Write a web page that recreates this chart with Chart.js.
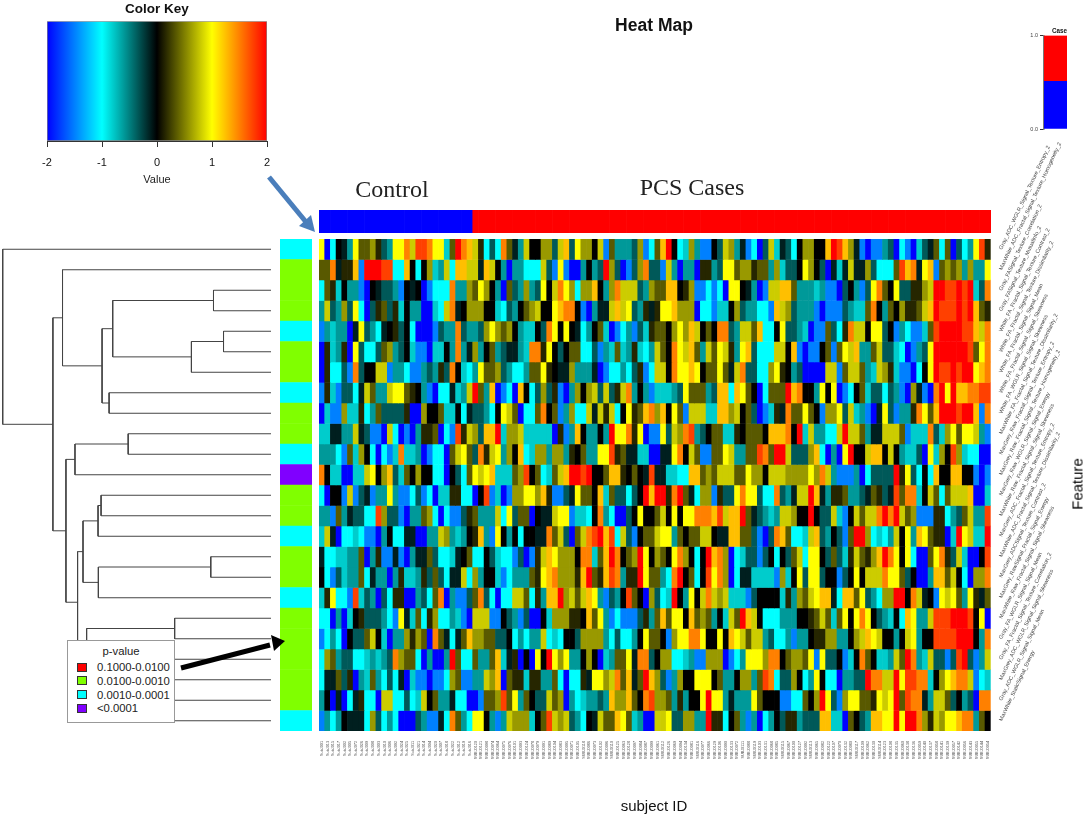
<!DOCTYPE html>
<html>
<head>
<meta charset="utf-8">
<title>Heat Map</title>
<script src="https://cdn.jsdelivr.net/npm/chart.js@4"></script>
<style>
    html, body { margin: 0; padding: 0; background: #fff; }
    #page { position: relative; width: 1084px; height: 816px; overflow: hidden; font-family: "Liberation Sans", Arial, sans-serif; color: #111; }
    #page canvas { position: absolute; filter: blur(0.35px); }
    .note { position: absolute; white-space: nowrap; transform: translate(-50%, -50%); }
    .serif { font-family: "Liberation Serif", serif; font-size: 24px; color: #222; }
    #pLegend { position: absolute; left: 67px; top: 640px; width: 106px; height: 81px; background: #fff; border: 1px solid #999; font-size: 11.3px; color: #222; }
    #pLegend .title { position: absolute; left: 0; right: 0; top: 4px; text-align: center; }
    #pLegend .row { position: absolute; left: 29px; white-space: nowrap; }
    #pLegend .swatch { position: absolute; left: 9px; width: 8px; height: 7px; border: 1px solid #333; }
    #arrows { position: absolute; left: 0; top: 0; }
</style>
</head>
<body>
<div id="page">
    <canvas id="heatChart" style="left:0;top:0"></canvas>
    <canvas id="treeChart" style="left:0;top:239px"></canvas>
    <canvas id="sideChart" style="left:280px;top:239px"></canvas>
    <canvas id="topChart" style="left:319px;top:210px"></canvas>
    <canvas id="keyChart" style="left:0;top:0"></canvas>
    <canvas id="caseChart" style="left:1020px;top:20px"></canvas>

    <div class="note" style="left:654px;top:25px;font-size:17.5px;font-weight:bold">Heat Map</div>
    <div class="note serif" style="left:392px;top:189px">Control</div>
    <div class="note serif" style="left:692px;top:187px">PCS Cases</div>
    <div class="note" style="left:654px;top:805px;font-size:15px">subject ID</div>
    <div class="note" style="left:1077px;top:484px;font-size:15px;color:#000;writing-mode:vertical-rl;transform:translate(-50%,-50%) rotate(180deg)">Feature</div>

    <div id="pLegend"></div>

    <svg id="arrows" width="1084" height="816">
        <line x1="269" y1="177" x2="306" y2="222" stroke="#4a7ebb" stroke-width="5"/>
        <polygon points="315,232 299,226 311,215" fill="#4a7ebb"/>
        <line x1="181" y1="668" x2="270" y2="645" stroke="#000" stroke-width="5"/>
        <polygon points="285,641 271,635 274,651" fill="#000"/>
    </svg>
</div>

<script>
// colour key
const keyTicks = [-2, -1, 0, 1, 2];
const keyColors = ['#0000ff', '#00ffff', '#000000', '#ffff00', '#ff0000'];

// case bar
const caseTicks = [0, 1];
const caseSplit = 0.51;

// p-value groups, legend
const pLabels = ['0.1000-0.0100', '0.0100-0.0010', '0.0010-0.0001', '<0.0001'];
const pColors = ['#ff0000', '#80ff00', '#00ffff', '#8000ff'];
const pGroups = [2, 1, 1, 1, 2, 1, 1, 2, 1, 1, 2, 3, 1, 1, 2, 1, 1, 2, 1, 1, 1, 1, 1, 2];

const features = [
    'Gray_ADC_WGLR_Signal_Texture_Entropy_2',
    'MaxWhite_ADC_Fractal_Signal_Texture_Homogeneity_2',
    'Gray_FASignal_Texture_Correlation_2',
    'Gray_FASignal_Texture_MutualInfo_2',
    'White_FA_Fractal_Signal_Texture_Contrast_2',
    'White_FA_Fractal_Signal_Texture_Dissimilarity_2',
    'White_FA_Fractal_Signal_Signal_Mean',
    'White_FA_Fractal_Signal_Signal_Skewness',
    'White_FA_WGLR_Signal_Signal_Skewness',
    'MaxWhite_FA_Fractal_Signal_Texture_Dissimilarity_2',
    'MaxGrey_Raw_Fractal_Signal_Texture_Entropy_2',
    'MaxGrey_Raw_Fractal_Signal_Texture_Homogeneity_2',
    'MaxGrey_Raw_WGLR_Signal_Signal_Energy',
    'MaxWhite_Raw_Fractal_Signal_Signal_Skewness',
    'MaxGrey_ADC_Fractal_Signal_Texture_Entropy_2',
    'MaxWhite_ADC_Fractal_Signal_Texture_Dissimilarity_2',
    'MaxGrey_ADCSignal_Texture_Contrast_2',
    'MaxGrey_RawSignal_Fractal_Signal_Energy',
    'MaxWhite_Raw_Fractal_Signal_Signal_Skewness',
    'Gray_FA_WGLR_Signal_Signal_Mean',
    'Gray_FA_Fractal_Signal_Texture_Correlation_2',
    'MaxGrey_ADC_WGLR_Signal_Signal_Skewness',
    'Gray_ADC_WGLR_Signal_Signal_Mean',
    'MaxWhite_StaticSignal_Energy'
];

const controlSubjects = [
    'SubJ001','SubJ013','SubJ015','SubJ017','SubJ002','SubJ005','SubJ072','SubJ026','SubJ009','SubJ008',
    'SubJ003','SubJ010','SubJ006','SubJ092','SubJ024','SubJ025','SubJ011','SubJ021','SubJ014','SubJ004',
    'SubJ020','SubJ007','SubJ018','SubJ022','SubJ012','SubJ019','SubJ016'
];
const caseSubjects = [
    'SUBJ0120','SUBJ0121','SUBJ0098','SUBJ0074','SUBJ0064','SUBJ0075','SUBJ0076','SUBJ0101','SUBJ0093','SUBJ0124',
    'SUBJ0078','SUBJ0079','SUBJ0091','SUBJ0089','SUBJ0104','SUBJ0083','SUBJ0095','SUBJ0071','SUBJ0105','SUBJ0118',
    'SUBJ0086','SUBJ0073','SUBJ0102','SUBJ0096','SUBJ0110','SUBJ0125','SUBJ0063','SUBJ0128','SUBJ0097','SUBJ0084',
    'SUBJ0087','SUBJ0099','SUBJ0061','SUBJ0112','SUBJ0126','SUBJ0069','SUBJ0094','SUBJ0134','SUBJ0081','SUBJ0116',
    'SUBJ0077','SUBJ0066','SUBJ0129','SUBJ0106','SUBJ0090','SUBJ0133','SUBJ0072','SUBJ0111','SUBJ0088','SUBJ0119',
    'SUBJ0103','SUBJ0131','SUBJ0068','SUBJ0085','SUBJ0115','SUBJ0067','SUBJ0100','SUBJ0127','SUBJ0092','SUBJ0113',
    'SUBJ0065','SUBJ0082','SUBJ0122','SUBJ0107','SUBJ0070','SUBJ0132','SUBJ0080','SUBJ0117','SUBJ0109','SUBJ0062',
    'SUBJ0130','SUBJ0114','SUBJ0123','SUBJ0108','SUBJ0135','SUBJ0060','SUBJ0138','SUBJ0136','SUBJ0059','SUBJ0140',
    'SUBJ0137','SUBJ0058','SUBJ0141','SUBJ0139','SUBJ0057','SUBJ0142','SUBJ0056','SUBJ0143','SUBJ0055','SUBJ0144',
    'SUBJ0054'
];

// heat values, one letter per cell, see levelValues
const levelValues = {
    a: -2, b: -1.5, c: -1, d: -0.8, e: -0.6, f: -0.35, g: -0.12, h: 0, i: 0.15,
    j: 0.35, k: 0.6, l: 0.8, m: 1, n: 1.25, o: 1.5, p: 1.75, q: 2
};
const heatRows = [
    'machgemjjk ifemmolppo mmdjqonlic fcojgelhhk kflnfmkkhl bjeeefkbcj nqhcdkebbh flkegbcafl dgfchkkhhn qpnkgbabbe facbadfgjc jafcempi',
    'jjogiinbqq qppccnhchk delcnnllgn lheaeecccl fbmbaaehef qkfabfkoff bleaeeaiie fmmjkkijje kdffhmkhfa gdglggkfcc cjpnogmnbj kjkekeem',
    'cjidheebah gffebhghab cccoeekjmk heajfekefm hlomkckknh ekolllfekj jnnhikbbcb cammhgeabl lnnjeeedeb bafhebfmoj hmffiiklqq ppqpqdfo',
    'elfekfmcaf ijfidheeaa dcloghkkkh hdcfehjklh hmnoohbaeg glnlmfeigi mmnkkkaccb ddhkfeeccb nlkfeeebab bbfeddjohe jhkiijlnqp ppqpqnji',
    'bedeeagmfe cghifhcaaa bfeeofeefk mkjkheddhf omhmhgcehj dabcebfdij jhkmknlhjh oofelljncc hmffedabbj fciollhmmf hbecbbdjpq qqqppnlo',
    'aideiamfcc fjkefhdbba ddheoegkeh jefggedooi mhfhjjccfb edjdeidcel jhomlnjelj mliemnfccc llhnbabbhj bjmlneejlf fdcabefmqq qqqqpjmo',
    'aiccfbofhh llbeecbbef eifohdcemj jkfeccejjm ihggkeeega bccecfibcl lhommnmhjj mjgloffcck mihefaaaal lbjlljedlk idbbachmqp pqpqqmno',
    'bidbffcglj eelmmjiheb accgdelqje nabcanhcfk fibaekhklf lfiloehebd ddefmjjjef nncnmjhacj jjqnohhemh mabchjdffc febakgbaoq mqnnoopp',
    'adbbkddice jffffiaakh hjddhcgffe chmljaccjo hjbekcclgl ilchmijnok nhmjbllldd nnklhjfabd igojjmjhbk kmfldebagm fbeeiomjnq qqpqqnbo',
    'ddggeelgfb balcabaeii jacbpilkfn nqdkkldddd daibenheeh eqmmoimabb mflkopefhj jddihjjjhn nnohqdleec clqlljeggl lljbdddofd kmjmmleb',
    'eeecbjdkhc acbdoddeab ccajlmjfoi lmekhncdkk ekkeihjeem mpijggddaa ggmohljbbj jmleejjpoj qqlfffknca eamqhhlnnh lheddfamdk hpkdccaa',
    'ohddaaddlm hknfdjhkhh ccahfcjmlm ndddjkphjc djlnqqpqhh jnnihjhgpg gddccnnjkj llljjmkkhl llkkkkmkol ebbbeacfff fqimfchcnh hnnhhbab',
    'cahhblbfgb eemebbcfbc addiiccahp bdabkkmmkn ibbfgmjjhn djffcfhqnq qioqjgckkb iffmommfcc ofegllqnge iijeefgjif gpjoodhljc jlllnaad',
    'eebjegffcc pkffbaeejk cacbbfijee elcmfjjahg glmmbddcho ecaafhmhhj lhmhmmooon plnnqjgfed ellkhhqhff ldbhljlloq oqljkbbbii cefjleep',
    'dlgaccdcbb aehccggaae elkedehine bmhehchhgg ojlfajlopq npclfbhjjl mmejhjjllh ggnnjjfbaf onjccdlnfe hfbjqqkcdc elhmenmjii adqmlddq',
    'gccddeejae ibbgbaeggj fccdghjcch fdccbfabil nmkkkhoodj nqohjkqmhk jhmokhchqn okacdffbfh chfjlcmmhf jfdiljiknq omhmcaajmo ifldaahp',
    'hcbfdeejcg eeaeiddeif jfcgglckeh hdbceeejim nokkkinqji npoeiiqmjj ecoqhjchpm okacggdddd bkdhmfmmfh hbfhmhlllo mmjfhaaenn jlhcakko',
    'dimccbpdfe afciiaaefc joaebbfjof cacclljcie nnqkljlnme bfehpjhakf cdqhemhlol kldddbfhhh hdiekjlmnn gcnnjmfeck kqqholghbm lmjemigj',
    'ccaeadhiff fecbmgdjci kccedballl bbhfebfaah dkkkiihnjm ebcbbbfiej njmmhnjkje hdljqnlhcc ceeehhijlj djmhmomhfe dhcnmeelpp pqqqphma',
    'bcecahffjl hdaeekikja ojgcgjnkkj jffhceceel cdchhfkkkk ecfccehmjj hbkmmoomhh mhnmljllef ccebeehiik keehklnmlh hehlmehhpp ppqqqheo',
    'ckjeffccde defokjjcae aaeqjccjee jndgiahamh qmkmeehkha dejjmgoofh kkccdebbkk kabcemmmko ohjkkjmbmf fhbdhojhdd eljqoedlff bfpqfbel',
    'cggjfiaedj ecfcgadbba bbckjbbeel knajiidiie ejcaccigmm klojngjqnk fbekhhmmmh jeehkkejpo cffkhcemhc caeeffqool lqmppoodhk mnoolbcd',
    'ehagacgicc allccfcdlh jeegccaabj jkpjmejhff ljkaecdeef enkknjhopk kjeiehhmqm megeeemjhh hbbccjhkqm fbkmmjjiml mqjpoogell jfhefaoo',
    'becehgggck fcecaaafeb bgcojecmmh ebelkkkdhj plklfechgl jjnmjdeaal lmffkkeeqi ichjebeace hfiiefffnn ddajhfennm mqmqqokilk mmnooejh'
];

// row dendrogram, hclust style: negative = leaf row, positive = earlier merge
const mergeLeft = [-5, -16, -3, 1, -19, -10, -8, -13, 8, 2, -23, -22, -21, 3, 14, 6, 9, 5, 17, 16, -2, 21, -1];
const mergeRight = [-6, -17, -4, -7, -20, -11, -9, -14, -15, -18, -24, 11, 12, 4, 7, -12, 10, 13, 18, 19, 15, 20, 22];
const mergeHeight = [47.3, 60, 57.3, 79.3, 96, 142.3, 161.3, 169.3, 172.3, 172, 110, 125, 145, 157.7, 168.3, 195.3, 187.3, 183.7, 192.7, 204.3, 207.7, 217.3, 267.3];

const subjects = controlSubjects.concat(caseSubjects);
const rowCells = heatRows.map(r => r.replace(/ /g, '').split('').map(c => levelValues[c]));

function heatColor(v) {
    const pos = Math.max(0, Math.min(3.999, v + 2));
    const i = Math.floor(pos);
    const t = pos - i;
    const from = Chart.helpers.color(keyColors[i]).rgb;
    const to = Chart.helpers.color(keyColors[i + 1]).rgb;
    const mix = k => Math.round(from[k] + (to[k] - from[k]) * t);
    return 'rgb(' + mix('r') + ',' + mix('g') + ',' + mix('b') + ')';
}

function sizeCanvas(id, w, h) {
    const c = document.getElementById(id);
    c.width = w;
    c.height = h;
    c.style.width = w + 'px';
    c.style.height = h + 'px';
    return c.getContext('2d');
}

const baseOptions = {
    responsive: false,
    animation: false,
    plugins: { legend: { display: false }, tooltip: { enabled: false } }
};

function createHeatChart() {
    const ctx = sizeCanvas('heatChart', 1084, 816);
    new Chart(ctx, {
        type: 'bar',
        data: {
            labels: subjects,
            datasets: rowCells.map((cells, r) => ({
                label: features[r],
                data: cells.map(() => [r, r + 1]),
                backgroundColor: cells.map(heatColor),
                borderWidth: 0,
                grouped: false,
                barPercentage: 1,
                categoryPercentage: 1
            }))
        },
        options: {
            ...baseOptions,
            layout: { padding: { left: 319, top: 239, right: 0, bottom: 0 } },
            scales: {
                x: {
                    grid: { display: false },
                    border: { display: false },
                    afterFit: s => { s.height = 85; },
                    ticks: {
                        autoSkip: false, minRotation: 90, maxRotation: 90, padding: 2,
                        color: '#555', font: { size: 3.8, family: 'Liberation Sans' }
                    }
                },
                y: {
                    position: 'right',
                    min: 0,
                    max: 24,
                    reverse: true,
                    grid: { display: false },
                    border: { display: false },
                    afterFit: s => { s.width = 93.3; },
                    afterBuildTicks: s => { s.ticks = features.map((f, i) => ({ value: i + 0.5 })); },
                    ticks: {
                        autoSkip: false, minRotation: 65, maxRotation: 65, padding: 2,
                        color: '#444', font: { size: 5.5, family: 'Liberation Sans' },
                        callback: (v, i) => features[i]
                    }
                }
            }
        }
    });
}

function createTreeChart() {
    const ctx = sizeCanvas('treeChart', 271, 492);
    const nodeY = [];
    const nodeH = [];
    const childPos = id => id < 0 ? { y: -id - 0.5, h: 0 } : { y: nodeY[id - 1], h: nodeH[id - 1] };
    const datasets = mergeHeight.map((h, i) => {
        const a = childPos(mergeLeft[i]);
        const b = childPos(mergeRight[i]);
        nodeY[i] = (a.y + b.y) / 2;
        nodeH[i] = h;
        return {
            data: [{ x: a.h, y: a.y }, { x: h, y: a.y }, { x: h, y: b.y }, { x: b.h, y: b.y }],
            showLine: true,
            borderColor: '#444',
            borderWidth: 1,
            pointRadius: 0,
            tension: 0
        };
    });
    new Chart(ctx, {
        type: 'scatter',
        data: { datasets: datasets },
        options: {
            ...baseOptions,
            scales: {
                x: { display: false, min: 0, max: 270, reverse: true },
                y: { display: false, min: 0, max: 24, reverse: true }
            }
        }
    });
}

function createSideChart() {
    const ctx = sizeCanvas('sideChart', 32, 492);
    new Chart(ctx, {
        type: 'bar',
        data: {
            labels: features,
            datasets: [{
                data: pGroups.map(() => [0, 1]),
                backgroundColor: pGroups.map(g => pColors[g]),
                borderWidth: 0,
                barPercentage: 1,
                categoryPercentage: 1
            }]
        },
        options: {
            ...baseOptions,
            indexAxis: 'y',
            scales: {
                x: { display: false, min: 0, max: 1 },
                y: { display: false }
            }
        }
    });
}

function createTopChart() {
    const ctx = sizeCanvas('topChart', 672, 23);
    new Chart(ctx, {
        type: 'bar',
        data: {
            labels: subjects,
            datasets: [{
                data: subjects.map(() => [0, 1]),
                backgroundColor: subjects.map((s, i) => i < controlSubjects.length ? '#0000ff' : '#ff0000'),
                borderWidth: 0,
                barPercentage: 1,
                categoryPercentage: 1
            }]
        },
        options: {
            ...baseOptions,
            scales: {
                x: { display: false },
                y: { display: false, min: 0, max: 1 }
            }
        }
    });
}

function createKeyChart() {
    const ctx = sizeCanvas('keyChart', 320, 195);
    new Chart(ctx, {
        type: 'bar',
        data: {
            labels: ['Value'],
            datasets: [{
                data: [[keyTicks[0], keyTicks[keyTicks.length - 1]]],
                borderColor: '#888',
                borderWidth: 1,
                borderSkipped: false,
                barPercentage: 1,
                categoryPercentage: 1,
                backgroundColor: c => {
                    const x = c.chart.scales.x;
                    const x0 = x ? x.getPixelForValue(-2) : NaN;
                    const x1 = x ? x.getPixelForValue(2) : NaN;
                    if (!Number.isFinite(x0) || !Number.isFinite(x1)) {
                        return keyColors[0];
                    }
                    const g = c.chart.ctx.createLinearGradient(x0, 0, x1, 0);
                    keyTicks.forEach((t, i) => g.addColorStop((t + 2) / 4, keyColors[i]));
                    return g;
                }
            }]
        },
        options: {
            ...baseOptions,
            indexAxis: 'y',
            layout: { padding: { left: 47, right: 53, top: 0, bottom: 0 } },
            plugins: {
                ...baseOptions.plugins,
                title: {
                    display: true, text: 'Color Key', fullSize: false, color: '#111',
                    padding: { top: 1, bottom: 4 },
                    font: { size: 13.5, weight: 'bold', family: 'Liberation Sans' }
                }
            },
            scales: {
                x: {
                    min: -2,
                    max: 2,
                    grid: { drawOnChartArea: false, color: '#333', tickLength: 6 },
                    border: { color: '#333' },
                    afterFit: s => { s.height = 54; },
                    afterBuildTicks: s => { s.ticks = keyTicks.map(t => ({ value: t })); },
                    ticks: { color: '#111', padding: 9, maxRotation: 0, font: { size: 11, family: 'Liberation Sans' } },
                    title: {
                        display: true, text: 'Value', color: '#222',
                        padding: { top: 4, bottom: 8 }, font: { size: 11, family: 'Liberation Sans' }
                    }
                },
                y: { display: false }
            }
        }
    });
}

function createCaseChart() {
    const ctx = sizeCanvas('caseChart', 60, 115);
    new Chart(ctx, {
        type: 'bar',
        data: {
            labels: ['Case'],
            datasets: [
                { data: [[0, caseSplit]], backgroundColor: '#0000ff', grouped: false, barPercentage: 1, categoryPercentage: 1 },
                { data: [[caseSplit, 1]], backgroundColor: '#ff0000', grouped: false, barPercentage: 1, categoryPercentage: 1 }
            ]
        },
        options: {
            ...baseOptions,
            layout: { padding: { left: 0, right: 13, top: 7, bottom: 6 } },
            plugins: {
                ...baseOptions.plugins,
                title: {
                    display: true, text: 'Case', align: 'end', fullSize: false, color: '#111',
                    padding: { top: 0, bottom: 1 },
                    font: { size: 6.3, weight: 'bold', family: 'Liberation Sans' }
                }
            },
            scales: {
                x: { display: false },
                y: {
                    min: 0,
                    max: 1,
                    grid: { drawOnChartArea: false, color: '#333', tickLength: 4 },
                    border: { color: '#777', width: 1.5 },
                    afterFit: s => { s.width = 24; },
                    afterBuildTicks: s => { s.ticks = caseTicks.map(t => ({ value: t })); },
                    ticks: {
                        color: '#444', padding: 2, font: { size: 5.5, family: 'Liberation Sans' },
                        callback: v => v.toFixed(1)
                    }
                }
            }
        }
    });
}

function fillPLegend() {
    const box = document.getElementById('pLegend');
    let html = '<div class="title">p-value</div>';
    pLabels.forEach((label, i) => {
        const top = 20 + i * 13.8;
        html += '<div class="swatch" style="top:' + (top + 1.5) + 'px;background:' + pColors[i] + '"></div>';
        html += '<div class="row" style="top:' + top + 'px">' + label.replace('<', '&lt;') + '</div>';
    });
    box.innerHTML = html;
}

createHeatChart();
createTreeChart();
createSideChart();
createTopChart();
createKeyChart();
createCaseChart();
fillPLegend();
</script>
</body>
</html>
